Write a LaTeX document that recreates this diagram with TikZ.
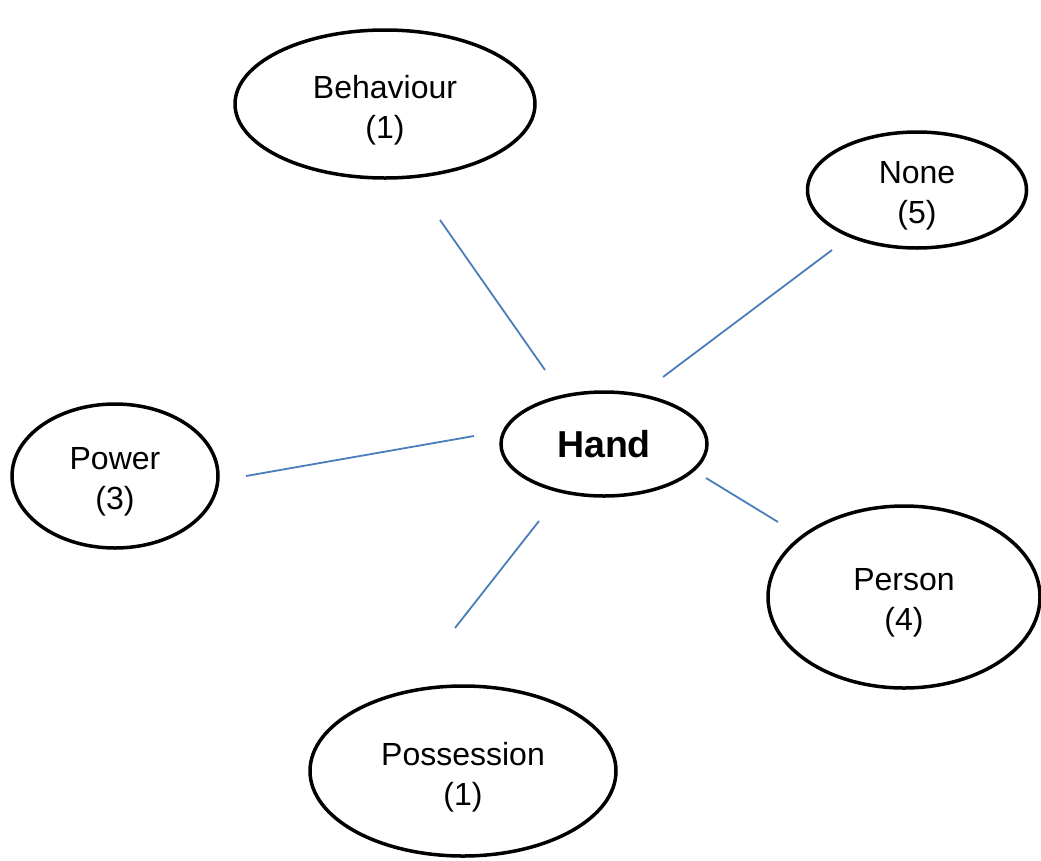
\documentclass[tikz,border=0pt]{standalone}
\usepackage{fontspec}
\setmainfont{Liberation Sans}
\usetikzlibrary{shapes.geometric}
\definecolor{linkblue}{HTML}{4A7EBB}
\begin{document}
\begin{tikzpicture}[x=1pt,y=-1pt,
  topic/.style={ellipse,draw=black,line width=3.5pt,inner sep=0pt},
  caption/.style={align=center,yshift=-6pt,font=\fontsize{32}{40}\selectfont},
  link/.style={draw=linkblue,line width=1.8pt}]
\useasboundingbox (0,0) rectangle (1041,860);

% central concept and its categories
\node[topic,minimum width=206pt,minimum height=104pt,font=\fontsize{37.5}{44}\selectfont\bfseries] (hand) at (604,444) {Hand};
\node[topic,minimum width=300pt,minimum height=148pt,label={[caption]center:Behaviour\\(1)}] (behaviour) at (385,104) {};
\node[topic,minimum width=219pt,minimum height=116pt,label={[caption]center:None\\(5)}] (none) at (917,190) {};
\node[topic,minimum width=206pt,minimum height=144pt,label={[caption]center:Power\\(3)}] (power) at (115,476) {};
\node[topic,minimum width=272pt,minimum height=182pt,label={[caption]center:Person\\(4)}] (person) at (904,597) {};
\node[topic,minimum width=306pt,minimum height=170pt,label={[caption]center:Possession\\(1)}] (possession) at (463,771) {};

% free-floating connector ends
\coordinate (b1) at (440,220); \coordinate (b2) at (545,370);
\coordinate (n1) at (832,250); \coordinate (n2) at (663,377);
\coordinate (w1) at (246,476); \coordinate (w2) at (474,436);
\coordinate (p1) at (778,522); \coordinate (p2) at (706,478);
\coordinate (s1) at (455,628); \coordinate (s2) at (539,521);

\draw[link] (b1) -- (b2);
\draw[link] (n1) -- (n2);
\draw[link] (w1) -- (w2);
\draw[link] (p1) -- (p2);
\draw[link] (s1) -- (s2);
\end{tikzpicture}
\end{document}
